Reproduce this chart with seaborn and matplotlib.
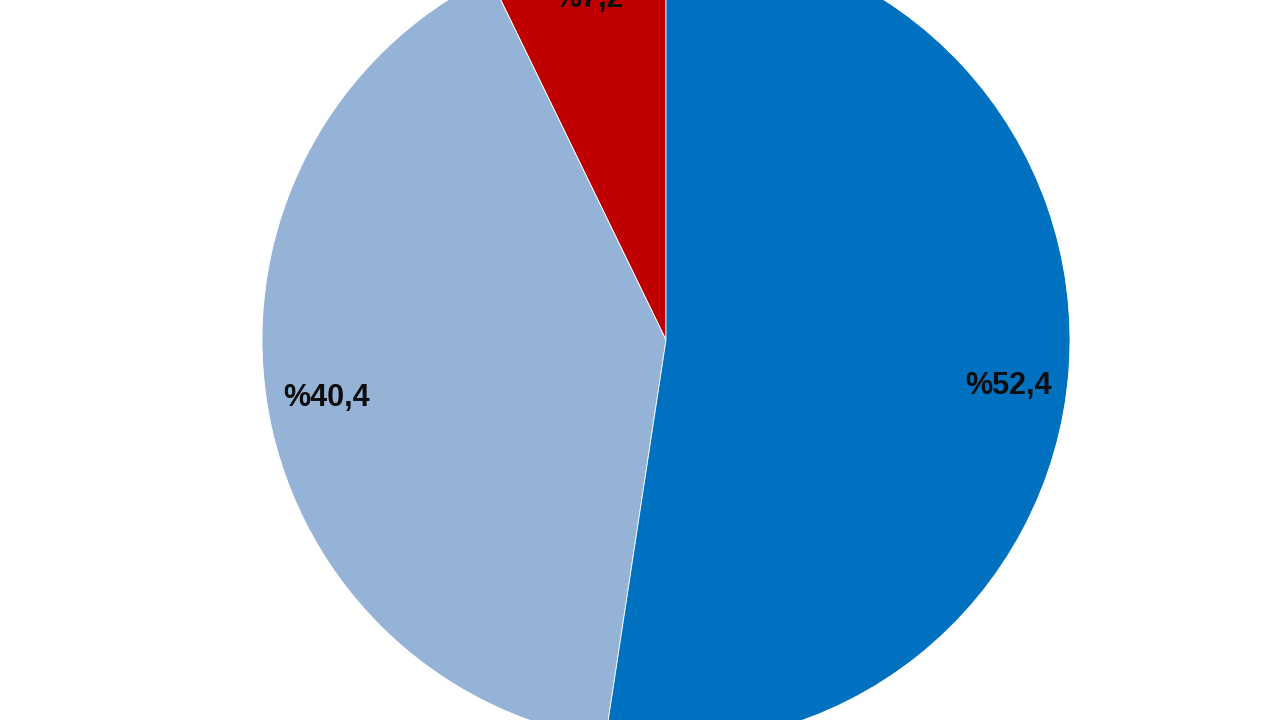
import matplotlib
matplotlib.use("Agg")
import matplotlib.pyplot as plt
import seaborn as sns

# slice data, drawn counter-clockwise from 12 o'clock
categories = ["C", "B", "A"]
shares = [7.2, 40.4, 52.4]
colors = ["#C00000", "#95B3D7", "#0070C0"]

sns.set_theme(style="white")
plt.rcParams['font.family'] = ['Liberation Sans', 'DejaVu Sans']

fig = plt.figure(figsize=(12.8, 7.2), dpi=100)
ax = fig.add_axes([0, 0, 1, 1])

wedges, texts, autotexts = ax.pie(
    shares,
    labels=None,
    colors=colors,
    startangle=90,
    counterclock=True,
    radius=1.0,
    autopct=lambda p: f"%{p:.1f}".replace(".", ","),
    pctdistance=0.85,
    wedgeprops=dict(edgecolor="white", linewidth=0.6),
    textprops=dict(fontsize=22, fontweight="bold", color="#0d0d0d"),
)

# small nudges so labels sit where the original puts them
autotexts[0].set_y(autotexts[0].get_position()[1] + 0.015)
autotexts[1].set_y(autotexts[1].get_position()[1] - 0.015)
autotexts[2].set_y(autotexts[2].get_position()[1] - 0.05)

# crop like the original: pie overflows top and bottom
r_px = 404.0
cx, cy = 666.0, 340.0
ax.set_aspect("auto")
ax.set_xlim(-cx / r_px, (1280 - cx) / r_px)
ax.set_ylim(-(720 - cy) / r_px, cy / r_px)
ax.axis("off")

fig.savefig("out.png", dpi=100)
plt.close(fig)
